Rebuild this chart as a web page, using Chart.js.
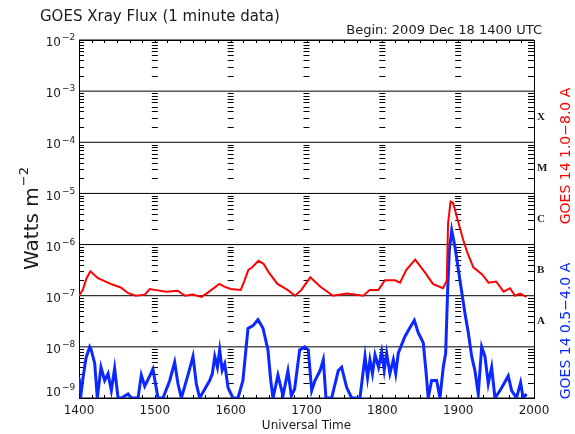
<!DOCTYPE html>
<html>
<head>
<meta charset="utf-8">
<script src="https://cdn.jsdelivr.net/npm/chart.js@4/dist/chart.umd.min.js"></script>
<style>
  html, body { margin: 0; padding: 0; background: #fff; }
  canvas { display: block; }
</style>
</head>
<body>
<canvas id="xray" width="575" height="434"></canvas>
<script>
// minutes after 1400 UT
const hourLabels = ['1400', '1500', '1600', '1700', '1800', '1900', '2000'];
const decadeExps = [-2, -3, -4, -5, -6, -7, -8, -9];
const classLetters = ['X', 'M', 'C', 'B', 'A'];

// GOES 14 1.0-8.0 A
const longTimes = [0, 3, 6, 9, 15, 25, 33, 39, 45, 52, 56, 60, 69, 78, 84, 90, 97, 103, 111, 115,
  120, 128, 131, 134, 137, 142, 146, 150, 157, 165, 171, 176, 180, 183, 191, 201, 212, 225, 230, 237,
  242, 250, 254, 259, 266, 274, 280, 288, 291, 292, 294, 296, 300, 304, 307, 312, 319, 324, 330, 336,
  341, 345, 349, 354];
const longFlux = [1.0e-7, 1.3e-7, 2.2e-7, 3.0e-7, 2.2e-7, 1.7e-7, 1.45e-7, 1.12e-7, 1.0e-7, 1.05e-7,
  1.35e-7, 1.3e-7, 1.2e-7, 1.25e-7, 1.0e-7, 1.05e-7, 0.95e-7, 1.2e-7, 1.7e-7, 1.5e-7,
  1.35e-7, 1.3e-7, 2.0e-7, 3.2e-7, 3.6e-7, 4.8e-7, 4.2e-7, 2.9e-7, 1.7e-7, 1.3e-7,
  1.0e-7, 1.3e-7, 1.8e-7, 2.3e-7, 1.5e-7, 1.0e-7, 1.1e-7, 1.0e-7, 1.3e-7, 1.3e-7,
  2.0e-7, 2.0e-7, 1.8e-7, 3.2e-7, 5.1e-7, 2.8e-7, 1.7e-7, 1.4e-7, 2.0e-7, 2.6e-6,
  6.9e-6, 6.5e-6, 2.8e-6, 1.23e-6, 7.3e-7, 3.6e-7, 2.6e-7, 1.8e-7, 1.9e-7, 1.2e-7,
  1.4e-7, 1.0e-7, 1.1e-7, 0.95e-7];

// GOES 14 0.5-4.0 A
const shortTimes = [0, 1.6, 3.2, 5.5, 8.5, 9.5, 12.4, 14.5, 17.4, 20.3, 23, 25.6, 28.2, 30.9, 33.5,
  38.8, 41.4, 46.7, 49.3, 52, 56, 58.5, 62.5, 66.5, 71.8, 75.7, 78.3, 81, 86.2, 90.2, 92.8, 95.5,
  103.4, 105.5, 107.4, 109.5, 111.3, 113.3, 115.3, 117.9, 121.8, 125.8, 129.7, 133.7, 137.7, 141.6,
  145.6, 149.5, 151.7, 153.5, 157.4, 161.4, 165.3, 168, 170.6, 174.6, 178.6, 181.4, 184.1, 186.7,
  190.7, 193.3, 195.4, 199.9, 205.1, 207.8, 211.8, 215.7, 222.3, 226.3, 228.3, 230.2, 232.2, 234.2,
  237, 239.5, 241.5, 243.4, 246, 248.7, 250.6, 252.6, 257.9, 261.9, 265.3, 268.4, 272.4, 274.5,
  276.3, 279, 283, 285.6, 288.2, 290.1, 291.7, 293, 294.9, 297.5, 301.4, 305.4, 308, 310.7, 313.3,
  315.9, 318.6, 321.2, 323.8, 326.5, 329.1, 333.1, 336.2, 339.6, 342.3, 346.2, 349.4, 351.4, 354.1];
const shortFlux = [2.5e-9, 1.2e-9, 2.5e-9, 6e-9, 1.0e-8, 9e-9, 4.8e-9, 1e-9, 4e-9, 2.2e-9, 3e-9, 1.4e-9, 3.8e-9, 1e-9, 1e-9,
  1.2e-9, 1e-9, 1e-9, 2.8e-9, 1.7e-9, 2.7e-9, 3.7e-9, 1e-9, 1e-9, 2.2e-9, 5e-9, 1.9e-9, 1e-9, 2.8e-9, 6.5e-9, 1.9e-9, 1e-9,
  2.2e-9, 3e-9, 6.5e-9, 4e-9, 8.7e-9, 3.5e-9, 4.7e-9, 1.6e-9, 1e-9, 1e-9, 2.2e-9, 2.3e-8, 2.6e-8, 3.4e-8,
  2.3e-8, 8.7e-9, 2.2e-9, 1e-9, 2.8e-9, 1.1e-9, 3.4e-9, 1.1e-9, 1.5e-9, 8.7e-9, 1e-8, 8.7e-9, 1.4e-9, 2.2e-9,
  3.4e-9, 5.6e-9, 1e-9, 1e-9, 3.4e-9, 4e-9, 1.6e-9, 1e-9, 1e-9, 6.5e-9, 2.5e-9, 5.6e-9, 3e-9, 7e-9,
  4e-9, 8e-9, 3.5e-9, 7.5e-9, 3e-9, 5.6e-9, 3e-9, 7.5e-9, 1.6e-8, 2.4e-8, 3.3e-8, 1.9e-8, 1.2e-8, 3.4e-9,
  1e-9, 2.2e-9, 2.2e-9, 1e-9, 4e-9, 7.5e-9, 1.3e-7, 7.7e-7, 1.9e-6, 9e-7, 2e-7, 4.5e-8, 1.9e-8, 6.5e-9, 3.4e-9,
  1.2e-9, 1e-8, 6.5e-9, 1.9e-9, 4e-9, 1e-9, 1.4e-9, 1.9e-9, 2.7e-9, 1.4e-9, 1e-9, 2e-9, 1e-9, 1.2e-9];

function toPoints(times, vals) {
  return times.map((t, i) => ({ x: t, y: vals[i] }));
}

function seg(ctx, x1, y1, x2, y2) {
  ctx.beginPath();
  ctx.moveTo(x1, y1);
  ctx.lineTo(x2, y2);
  ctx.stroke();
}

// axes, ticks and all the labels are drawn here from the chart's scales
const goesFrame = {
  id: 'goesFrame',
  beforeDatasetsDraw(chart) {
    const { ctx, chartArea: a, scales: { x, y } } = chart;
    ctx.save();
    ctx.strokeStyle = '#000';
    ctx.lineWidth = 1;

    decadeExps.forEach(e => {
      const py = y.getPixelForValue(Math.pow(10, e));
      seg(ctx, a.left, py, a.right, py);
    });

    for (let e = -9; e < -2; e++) {
      for (let m = 2; m <= 9; m++) {
        const py = Math.round(y.getPixelForValue(m * Math.pow(10, e))) + 0.5;
        seg(ctx, a.left, py, a.left + 5, py);
        seg(ctx, a.right - 6, py, a.right, py);
        for (let h = 1; h < hourLabels.length - 1; h++) {
          const px = x.getPixelForValue(h * 60);
          seg(ctx, px - 3, py, px + 3, py);
        }
      }
    }

    for (let t = 10; t < 360; t += 10) {
      const px = Math.round(x.getPixelForValue(t)) + 0.5;
      seg(ctx, px, a.top, px, a.top + 3);
      seg(ctx, px, a.bottom, px, a.bottom - 3);
    }

    ctx.strokeRect(Math.round(a.left) + 0.5, Math.round(a.top) + 0.5,
      Math.round(a.right - a.left), Math.round(a.bottom - a.top));
    ctx.restore();
  },
  afterDraw(chart) {
    const { ctx, chartArea: a, scales: { x, y } } = chart;
    ctx.save();
    ctx.fillStyle = '#1a1a1a';
    ctx.textBaseline = 'middle';

    ctx.font = '15px "DejaVu Sans"';
    ctx.textAlign = 'left';
    ctx.fillText('GOES Xray Flux (1 minute data)', 40, 17);
    ctx.font = '13px "DejaVu Sans"';
    ctx.textAlign = 'right';
    ctx.fillText('Begin: 2009 Dec 18 1400 UTC', 542, 31);

    // y tick labels 10^n
    decadeExps.forEach(e => {
      const py = Math.min(y.getPixelForValue(Math.pow(10, e)) + 3, a.bottom - 5);
      ctx.font = '12px "DejaVu Sans"';
      ctx.textAlign = 'right';
      ctx.fillText('10', 61, py);
      ctx.font = '9px "DejaVu Sans"';
      ctx.textAlign = 'left';
      ctx.fillText('\u2212' + Math.abs(e), 62, py - 5);
    });

    // x tick labels
    ctx.font = '12px "DejaVu Sans"';
    ctx.textAlign = 'center';
    hourLabels.forEach((lab, i) => {
      ctx.fillText(lab, x.getPixelForValue(i * 60), 411);
    });
    ctx.fillText('Universal Time', (a.left + a.right) / 2, 426);

    // y title
    ctx.save();
    ctx.translate(33, 219);
    ctx.rotate(-Math.PI / 2);
    ctx.font = '20px "DejaVu Sans"';
    const w1 = ctx.measureText('Watts m').width;
    ctx.font = '13px "DejaVu Sans"';
    const w2 = ctx.measureText('\u22122').width;
    ctx.textAlign = 'left';
    ctx.font = '20px "DejaVu Sans"';
    ctx.fillText('Watts m', -(w1 + w2) / 2, 0);
    ctx.font = '13px "DejaVu Sans"';
    ctx.fillText('\u22122', -(w1 + w2) / 2 + w1 + 1, -8);
    ctx.restore();

    // flare classes
    ctx.font = 'bold 11px "Liberation Serif"';
    ctx.textAlign = 'left';
    classLetters.forEach((c, i) => {
      const py = y.getPixelForValue(Math.pow(10, -3.5 - i));
      ctx.fillText(c, a.right + 3, py);
    });

    // channel labels
    ctx.font = '14px "DejaVu Sans"';
    ctx.textAlign = 'center';
    [['GOES 14 1.0\u22128.0 A', '#ff0000', 156], ['GOES 14 0.5\u22124.0 A', '#0a28ff', 331]].forEach(([txt, col, cy]) => {
      ctx.save();
      ctx.translate(566, cy);
      ctx.rotate(-Math.PI / 2);
      ctx.fillStyle = col;
      ctx.fillText(txt, 0, 0);
      ctx.restore();
    });
    ctx.restore();
  }
};

new Chart(document.getElementById('xray'), {
  type: 'line',
  data: {
    datasets: [
      {
        label: 'GOES 14 1.0-8.0 A',
        data: toPoints(longTimes, longFlux),
        borderColor: '#ff0000',
        borderWidth: 2,
        pointRadius: 0,
        tension: 0,
        clip: 0
      },
      {
        label: 'GOES 14 0.5-4.0 A',
        data: toPoints(shortTimes, shortFlux),
        borderColor: '#0a28ff',
        borderWidth: 3,
        pointRadius: 0,
        tension: 0,
        clip: 0
      }
    ]
  },
  options: {
    responsive: false,
    animation: false,
    devicePixelRatio: 1,
    layout: { padding: { left: 79, top: 40, right: 41, bottom: 36 } },
    plugins: { legend: { display: false }, tooltip: { enabled: false } },
    scales: {
      x: { type: 'linear', min: 0, max: 360, display: false },
      y: { type: 'logarithmic', min: 1e-9, max: 1e-2, display: false }
    }
  },
  plugins: [goesFrame]
});
</script>
</body>
</html>
